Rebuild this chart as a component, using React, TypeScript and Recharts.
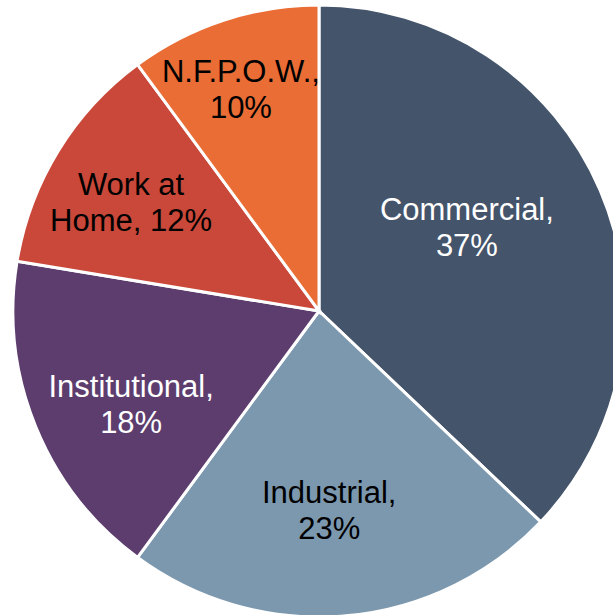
import { PieChart, Pie, Cell } from 'recharts';

const categories = ['Commercial', 'Industrial', 'Institutional', 'Work at Home', 'N.F.P.O.W.'];
const shares = [37.1, 23.0, 17.5, 12.3, 10.1];

const colors = ['#44546a', '#7c98ae', '#5c3d6e', '#c9483a', '#e96d35'];
const labelColors = ['#ffffff', '#000000', '#ffffff', '#000000', '#000000'];
// label placement (fraction of radius, clockwise nudge in degrees), like Excel's best fit
const labelRadius = [0.556, 0.651, 0.685, 0.71, 0.769];
const labelNudge = [-6.4, 2.1, -4.2, -1.4, -1.2];

const data = categories.map((name, i) => ({ name, value: shares[i] }));

const RAD = Math.PI / 180;
const FONT = 31;
const LINE_H = 36;

function wrap(text: string, max: number) {
  const lines: string[] = [];
  let cur = '';
  text.split(' ').forEach((w) => {
    if (cur && (cur + ' ' + w).length > max) {
      lines.push(cur);
      cur = w;
    } else {
      cur = cur ? cur + ' ' + w : w;
    }
  });
  if (cur) lines.push(cur);
  return lines;
}

function renderLabel(props: any) {
  const { cx, cy, midAngle, outerRadius, percent, index, name } = props;
  const r = outerRadius * labelRadius[index];
  const a = midAngle - labelNudge[index];
  const x = cx + r * Math.cos(-a * RAD);
  const y = cy + r * Math.sin(-a * RAD);
  const lines = wrap(`${name}, ${Math.round(percent * 100)}%`, 10);
  const top = y - (lines.length * LINE_H) / 2 + LINE_H / 2 + FONT * 0.35;
  return (
    <text
      x={x}
      y={top}
      textAnchor="middle"
      fill={labelColors[index]}
      style={{ fontFamily: 'Liberation Sans, Arial, sans-serif', fontSize: FONT }}
    >
      {lines.map((l, i) => (
        <tspan key={i} x={x} y={top + i * LINE_H}>
          {l}
        </tspan>
      ))}
    </text>
  );
}

export default function App() {
  return (
    <div style={{ position: 'absolute', left: 0, top: 0, width: 613, height: 615, background: '#fff' }}>
      <PieChart width={613} height={615} margin={{ top: 0, right: 0, bottom: 0, left: 0 }}>
        <Pie
          data={data}
          dataKey="value"
          nameKey="name"
          cx={319}
          cy={311}
          outerRadius={306}
          startAngle={90}
          endAngle={-270}
          stroke="#ffffff"
          strokeWidth={3}
          labelLine={false}
          label={renderLabel}
          isAnimationActive={false}
        >
          {data.map((d, i) => (
            <Cell key={d.name} fill={colors[i]} />
          ))}
        </Pie>
      </PieChart>
    </div>
  );
}
